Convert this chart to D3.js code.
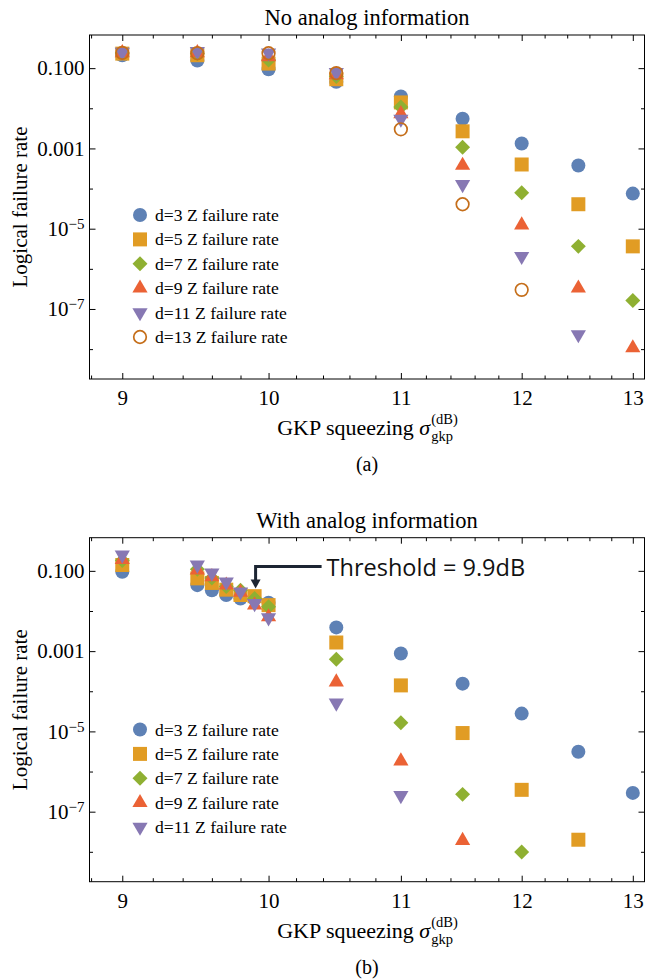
<!DOCTYPE html>
<html>
<head>
<meta charset="utf-8">
<script src="https://cdn.jsdelivr.net/npm/d3@7"></script>
<style>
  body { margin: 0; background: #fff; }
  svg { display: block; }
</style>
</head>
<body>
<div id="chart"></div>
<script>
// squeezing values (dB)
const xA = [9, 9.5, 10, 10.5, 11, 11.5, 12, 12.5, 13];
const xB = [9, 9.5, 9.6, 9.7, 9.8, 9.9, 10, 10.5, 11, 11.5, 12, 12.5, 13];

// panel (a): no analog information
const a_d3  = [0.21, 0.155, 0.094, 0.046, 0.0197, 0.0055, 1.33e-3, 3.77e-4, 7.5e-5];
const a_d5  = [0.23, 0.21, 0.13, 0.053, 0.014, 0.00267, 3.98e-4, 4.07e-5, 3.63e-6];
const a_d7  = [0.24, 0.23, 0.16, 0.062, 0.0108, 0.00107, 7.9e-5, 3.63e-6, 1.62e-7];
const a_d9  = [0.24, 0.24, 0.19, 0.068, 0.0073, 3.77e-4, 1.23e-5, 3.3e-7, 1.07e-8];
const a_d11 = [0.25, 0.26, 0.24, 0.078, 0.0054, 1.27e-4, 2.05e-6, 2.3e-8];
const a_d13 = [0.24, 0.235, 0.235, 0.075, 0.0030, 4.07e-5, 3.0e-7];

// panel (b): with analog information
const b_d3  = [0.095, 0.044, 0.033, 0.025, 0.0205, 0.02, 0.016, 0.0039, 8.7e-4, 1.55e-4, 2.78e-5, 3.1e-6, 2.94e-7];
const b_d5  = [0.14, 0.065, 0.050, 0.034, 0.025, 0.0234, 0.014, 1.64e-3, 1.4e-4, 9.1e-6, 3.5e-7, 2.0e-8];
const b_d7  = [0.18, 0.11, 0.066, 0.041, 0.033, 0.0205, 0.0127, 6.3e-4, 1.65e-5, 2.7e-7, 9.9e-9];
const b_d9  = [0.19, 0.104, 0.071, 0.044, 0.029, 0.014, 0.0071, 1.7e-4, 1.83e-6, 1.9e-8];
const b_d11 = [0.25, 0.14, 0.089, 0.053, 0.030, 0.0154, 0.0068, 5.1e-5, 2.55e-7];

const seriesNames = ["d=3 Z failure rate", "d=5 Z failure rate", "d=7 Z failure rate",
                     "d=9 Z failure rate", "d=11 Z failure rate", "d=13 Z failure rate"];
const colors = ["#5E81B5", "#E19C24", "#8FB032", "#EB6235", "#8778B3", "#C56E1A"];

const xMajor = [9, 10, 11, 12, 13];
const yMajor = [1e-1, 1e-3, 1e-5, 1e-7];
const yMinor = [1e-2, 1e-4, 1e-6, 1e-8];

const W = 647, H = 979;
const serif = "'Liberation Serif', 'Times New Roman', serif";

const svg = d3.select('#chart').append('svg')
    .attr('width', W)
    .attr('height', H);

// shared scales (x is logarithmic in the original)
const left = 89.5, right = 644.5, plotH = 344;
const x = d3.scaleLog().domain([8.79, 13.11]).range([left, right]);
const xMinor = d3.range(8.8, 13.05, 0.2).map(v => +v.toFixed(1)).filter(v => !xMajor.includes(v));

// marker drawing: 0 circle, 1 square, 2 diamond, 3 up triangle, 4 down triangle, 5 open circle
function marker(g, k, px, py) {
    if (k === 0) {
        g.append('circle').attr('cx', px).attr('cy', py).attr('r', 7).attr('fill', colors[0]);
    } else if (k === 1) {
        g.append('path').attr('d', d3.symbol(d3.symbolSquare, 196)())
            .attr('transform', `translate(${px},${py})`).attr('fill', colors[1]);
    } else if (k === 2) {
        g.append('path').attr('d', d3.symbol(d3.symbolSquare, 112)())
            .attr('transform', `translate(${px},${py}) rotate(45)`).attr('fill', colors[2]);
    } else if (k === 3) {
        g.append('path').attr('d', d3.symbol(d3.symbolTriangle, 100)())
            .attr('transform', `translate(${px},${py})`).attr('fill', colors[3]);
    } else if (k === 4) {
        g.append('path').attr('d', d3.symbol(d3.symbolTriangle, 100)())
            .attr('transform', `translate(${px},${py}) rotate(180)`).attr('fill', colors[4]);
    } else {
        g.append('circle').attr('cx', px).attr('cy', py).attr('r', 6.3)
            .attr('fill', 'none').attr('stroke', colors[5]).attr('stroke-width', 1.7);
    }
}

function yLabel(sel) {
    sel.each(function(d) {
        const t = d3.select(this).text('');
        const e = Math.round(Math.log10(d));
        if (e >= -3) {
            t.text(d.toFixed(3));
        } else {
            t.append('tspan').text('10');
            t.append('tspan').attr('dy', '-0.45em').attr('font-size', '15px').text('\u2212' + (-e));
        }
    });
}

function drawPanel(top, title, xs, series, legendTop, tag) {
    const y = d3.scaleLog().domain([1.8e-9, 0.67]).range([top + plotH, top]);
    const g = svg.append('g');

    // ticks on all four sides, pointing inward
    const ax = [
        [d3.axisBottom(x), `translate(0,${top + plotH})`, xMajor, xMinor, true],
        [d3.axisTop(x), `translate(0,${top})`, xMajor, xMinor, false],
        [d3.axisLeft(y), `translate(${left},0)`, yMajor, yMinor, true],
        [d3.axisRight(y), `translate(${right},0)`, yMajor, yMinor, false]
    ];
    ax.forEach(([axis, tr, maj, min, labels], i) => {
        const isX = i < 2;
        const gm = g.append('g').attr('transform', tr)
            .call(axis.tickValues(maj).tickSize(-6).tickPadding(isX ? 11 : 5)
                .tickFormat(labels ? (isX ? d3.format('d') : (d => d)) : () => ''));
        gm.select('.domain').remove();
        gm.selectAll('text').attr('font-family', serif).attr('font-size', 21).attr('fill', '#000');
        if (!isX && labels) gm.selectAll('text').call(yLabel);
        const gn = g.append('g').attr('transform', tr)
            .call(axis.tickValues(min).tickSize(-3.5).tickFormat(() => ''));
        gn.select('.domain').remove();
        g.selectAll('.tick line').attr('stroke', '#000');
    });

    g.append('rect')
        .attr('x', left).attr('y', top)
        .attr('width', right - left).attr('height', plotH)
        .attr('fill', 'none').attr('stroke', '#000').attr('stroke-width', 1);

    // points
    const pts = g.append('g');
    series.forEach((vals, k) => {
        vals.forEach((v, i) => marker(pts, k, x(xs[i]), y(v)));
    });

    // legend
    const lg = g.append('g');
    series.forEach((vals, k) => {
        const ly = legendTop + k * 24.4;
        marker(lg, k, 140, ly);
        lg.append('text').attr('x', 155).attr('y', ly + 6)
            .attr('font-family', serif).attr('font-size', 17.6).text(seriesNames[k]);
    });

    // title
    g.append('text').attr('x', (left + right) / 2).attr('y', top - 10)
        .attr('text-anchor', 'middle').attr('font-family', serif).attr('font-size', 22.5)
        .text(title);

    // y axis label
    g.append('text')
        .attr('transform', `translate(27,${top + plotH / 2}) rotate(-90)`)
        .attr('text-anchor', 'middle').attr('font-family', serif).attr('font-size', 21)
        .text('Logical failure rate');

    // x axis label with stacked sub/superscript
    const base = top + plotH + 56;
    const lab = g.append('text').attr('y', base).attr('font-family', serif).attr('font-size', 22);
    lab.append('tspan').text('GKP squeezing ');
    lab.append('tspan').attr('font-style', 'italic').text('\u03c3');
    const len = lab.node().getComputedTextLength();
    const sup = g.append('text').attr('y', base - 11).attr('font-family', serif).attr('font-size', 14.5).text('(dB)');
    const sub = g.append('text').attr('y', base + 6).attr('font-family', serif).attr('font-size', 14.5).text('gkp');
    const extra = Math.max(sup.node().getComputedTextLength(), sub.node().getComputedTextLength());
    const x0 = (left + right) / 2 - (len + extra) / 2;
    lab.attr('x', x0);
    sup.attr('x', x0 + len + 1);
    sub.attr('x', x0 + len + 1);

    // panel tag
    g.append('text').attr('x', (left + right) / 2).attr('y', top + plotH + 92)
        .attr('text-anchor', 'middle').attr('font-family', serif).attr('font-size', 20)
        .text(tag);

    return y;
}

drawPanel(35, 'No analog information', xA, [a_d3, a_d5, a_d7, a_d9, a_d11, a_d13], 215, '(a)');
drawPanel(537.7, 'With analog information', xB, [b_d3, b_d5, b_d7, b_d9, b_d11], 729.5, '(b)');

// threshold annotation pointing at 9.9 dB
const thr = 9.9;
const ax0 = x(thr) + 1, ay0 = 566.5;
const ann = svg.append('g').attr('stroke', '#1c2533').attr('fill', 'none');
ann.append('path')
    .attr('d', `M${ax0 + 66},${ay0} H${ax0} V${ay0 + 15}`)
    .attr('stroke-width', 3);
ann.append('path')
    .attr('d', `M${ax0 - 5},${ay0 + 13} L${ax0 + 5},${ay0 + 13} L${ax0},${ay0 + 22} Z`)
    .attr('fill', '#1c2533').attr('stroke', 'none');
svg.append('text').attr('x', ax0 + 71).attr('y', ay0 + 9)
    .attr('font-family', "'Open Sans', 'Noto Sans', sans-serif").attr('font-size', 23.5)
    .attr('fill', '#111').text('Threshold = 9.9dB');
</script>
</body>
</html>
